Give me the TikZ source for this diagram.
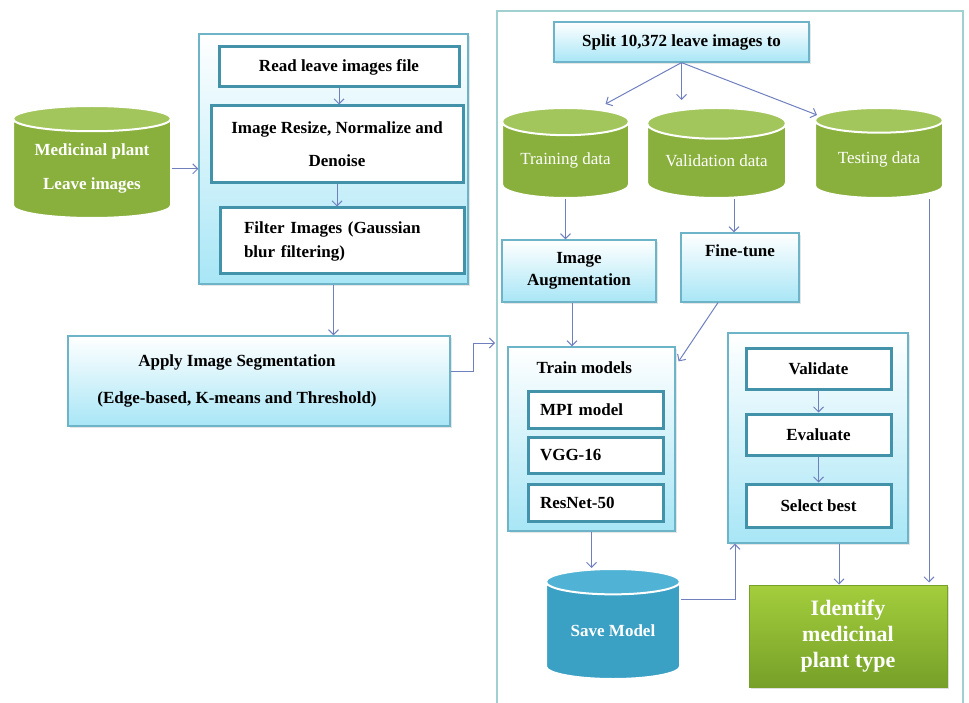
\documentclass[tikz,border=0pt]{standalone}
\usepackage{fontspec}
\setmainfont{Liberation Serif}
\usepackage{tikz}
\usetikzlibrary{shapes.geometric, arrows.meta, positioning, shadows}
\definecolor{leafgreen}{RGB}{137,176,60}
\definecolor{leaftop}{RGB}{163,198,92}
\definecolor{seablue}{RGB}{58,160,196}
\definecolor{seatop}{RGB}{80,178,212}
\definecolor{panelline}{RGB}{110,180,200}
\definecolor{paneldeep}{RGB}{168,230,246}
\definecolor{boxline}{RGB}{66,146,170}
\definecolor{arrowblue}{RGB}{112,128,190}
\definecolor{frameline}{RGB}{160,208,208}
\definecolor{idtop}{RGB}{164,206,60}
\definecolor{idbottom}{RGB}{118,160,40}
\newcommand{\lbl}{\fontsize{17}{20}\selectfont}
\tikzstyle{panel} = [draw=panelline, line width=1.2pt, rectangle,
    top color=white, bottom color=paneldeep, inner sep=0pt, font=\lbl\bfseries,
    drop shadow={shadow xshift=2pt, shadow yshift=-2pt, opacity=0.2}]
\tikzstyle{stepbox} = [draw=boxline, line width=3pt, fill=white, rectangle,
    inner sep=0pt, font=\lbl\bfseries]
\tikzstyle{datacyl} = [cylinder, shape border rotate=90, draw=white, line width=2pt,
    cylinder uses custom fill, cylinder body fill=leafgreen, cylinder end fill=leaftop,
    text=white, font=\lbl, inner sep=0pt, anchor=north]
\tikzstyle{arr} = [draw=arrowblue, line width=1pt, -{Straight Barb[length=5pt,width=10pt]}]

\begin{document}
\begin{tikzpicture}[x=1pt, y=-1pt]
    \useasboundingbox (0,0) rectangle (969,703);
    % preprocessing
    \node [datacyl, font=\lbl\bfseries, minimum width=158pt, minimum height=112pt,
        aspect=0.22, align=center] (leaves) at (92,105) {Medicinal plant\\[14pt]Leave images};
    \node [panel, minimum width=269pt, minimum height=250pt] (prep) at (333.5,159) {};
    \node [stepbox, minimum width=240pt, minimum height=40pt] (read) at (339,67) {Read leave images file};
    \node [stepbox, minimum width=252pt, minimum height=77pt, align=center] (resize) at (337,144.5)
        {Image Resize, Normalize and\\[13pt]Denoise};
    \node [stepbox, minimum width=244pt, minimum height=66pt, text width=196pt, inner xsep=24pt,
        align=left] (filter) at (342,241) {Filter Images (Gaussian\\[4pt]blur filtering)};
    \node [panel, minimum width=382pt, minimum height=90pt, align=center] (apply) at (259,381)
        {Apply Image Segmentation\hspace*{44pt}\\[17pt](Edge-based, K-means and Threshold)\hspace*{44pt}};
    \draw [arr] (leaves.east) -- (prep.west |- leaves.east);
    \draw [arr] (read) -- (read |- resize.north);
    \draw [arr] (resize) -- (resize |- filter.north);
    \draw [arr] (prep.south) -- (prep.south |- apply.north);

    % training and testing
    \draw [draw=frameline, line width=1.2pt] (497,708) -- (497,11) -- (963,11) -- (963,708);
    \coordinate (segin) at (495,343);
    \draw [arr] ([yshift=10pt]apply.east) -- ++(23,0) |- (segin);
    \node [panel, minimum width=255pt, minimum height=40pt] (split) at (681.5,42) {Split 10,372 leave images to};
    \node [datacyl, minimum width=127pt, minimum height=90pt, aspect=0.3] (tdata) at (565.5,107) {Training data};
    \node [datacyl, minimum width=139pt, minimum height=90pt, aspect=0.3] (vdata) at (716.5,107) {Validation data};
    \node [datacyl, minimum width=128pt, minimum height=90pt, aspect=0.3] (sdata) at (879,107) {Testing data};
    \draw [arr] (split.south) -- ([xshift=40pt,yshift=3pt]tdata.north);
    \draw [arr] (split.south) -- ([yshift=7pt]split.south |- vdata.north);
    \draw [arr] (split.south) -- ([xshift=-62pt,yshift=-8pt]sdata.north);

    \node [panel, minimum width=154pt, minimum height=62pt, align=center] (aug) at (579,271)
        {Image\\[2pt]Augmentation};
    \node [panel, minimum width=118pt, minimum height=69pt, text depth=34pt] (fine) at (740,267.5) {Fine-tune};
    \draw [arr] (tdata.south) -- (tdata.south |- aug.north);
    \draw [arr] ([xshift=-6pt]fine.north |- vdata.south) -- ([xshift=-6pt]fine.north);

    \node [panel, minimum width=167pt, minimum height=184pt] (train) at (591.5,439) {};
    \node [font=\lbl\bfseries, anchor=base west] (trainlbl) at (533,373) {Train models};
    \node [stepbox, minimum width=135pt, minimum height=37pt, text width=111pt, inner xsep=12pt,
        align=left] (mpi) at (595.5,409.5) {MPI model};
    \node [stepbox, minimum width=135pt, minimum height=36pt, text width=111pt, inner xsep=12pt,
        align=left] (vgg) at (595.5,455) {VGG-16};
    \node [stepbox, minimum width=135pt, minimum height=37pt, text width=111pt, inner xsep=12pt,
        align=left] (resnet) at (595.5,502.5) {ResNet-50};
    \draw [arr] ([xshift=-7pt]aug.south) -- ([xshift=-7pt]aug.south |- train.north);
    \draw [arr] ([xshift=-22pt]fine.south) -- ([xshift=3pt,yshift=-15pt]train.north east);

    \node [datacyl, cylinder body fill=seablue, cylinder end fill=seatop, font=\lbl\bfseries,
        minimum width=134pt, minimum height=110pt, aspect=0.3] (save) at (613,568) {Save Model};
    \draw [arr] (train.south) -- (train.south |- save.north);

    % evaluation
    \node [panel, minimum width=180pt, minimum height=210pt] (eval) at (818,438) {};
    \node [stepbox, minimum width=145pt, minimum height=41pt] (valid) at (818.5,368.5) {Validate};
    \node [stepbox, minimum width=145pt, minimum height=41pt] (evalt) at (818.5,434.5) {Evaluate};
    \node [stepbox, minimum width=145pt, minimum height=43pt] (select) at (818.5,505.5) {Select best};
    \draw [arr] (valid) -- (valid |- evalt.north);
    \draw [arr] (evalt) -- (evalt |- select.north);
    \draw [arr] ([yshift=31pt]save.east) -| ([xshift=-83pt]eval.south);

    \node [draw=idbottom, line width=1pt, top color=idtop, bottom color=idbottom,
        minimum width=198pt, minimum height=102pt, text=white, align=center,
        drop shadow={shadow xshift=2pt, shadow yshift=-2pt, opacity=0.25},
        font=\fontsize{22}{26}\selectfont\bfseries] (ident) at (848,636) {Identify\\medicinal\\plant type};
    \draw [arr] ([xshift=21pt]eval.south) -- ([xshift=21pt]eval.south |- ident.north);
    \draw [arr] ([xshift=50pt]sdata.south) -- ([xshift=50pt,yshift=2pt]sdata.south |- ident.north);
\end{tikzpicture}
\end{document}
